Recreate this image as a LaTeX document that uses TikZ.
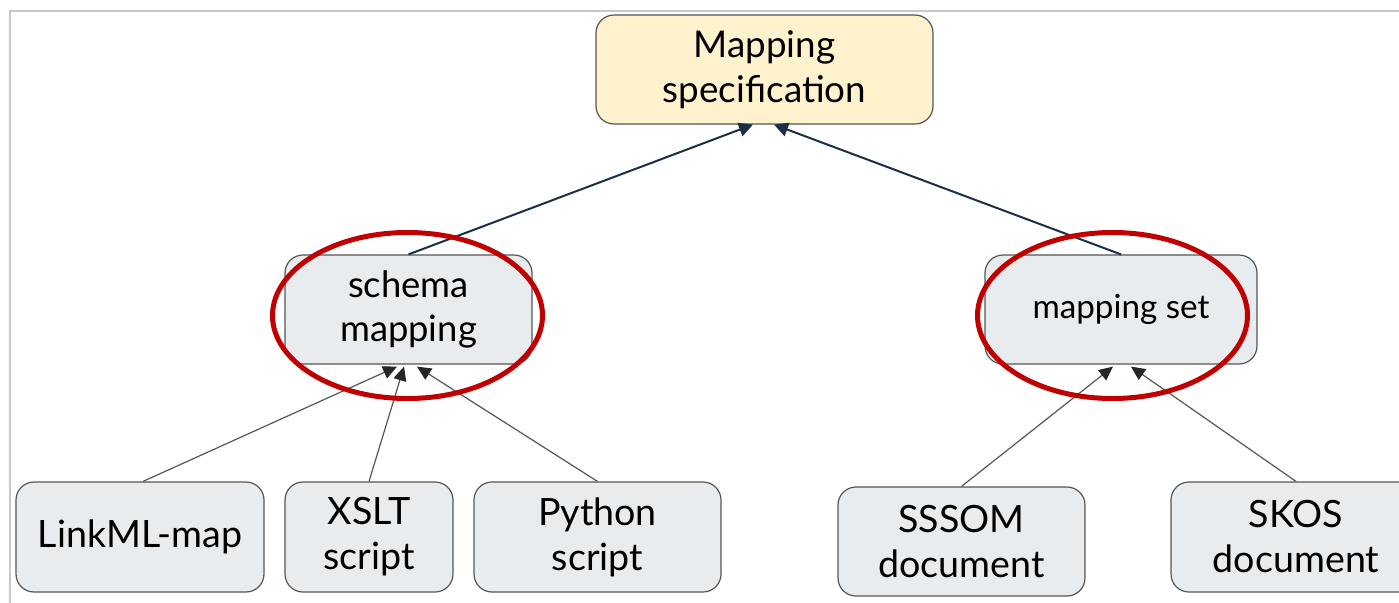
\documentclass[tikz,border=0pt]{standalone}
\usepackage{fontspec}
\setmainfont{Lato}
\usetikzlibrary{arrows.meta}
\definecolor{specfill}{RGB}{255, 242, 204}
\definecolor{boxfill}{RGB}{232, 236, 238}
\definecolor{boxline}{RGB}{85, 85, 85}
\definecolor{navy}{RGB}{27, 47, 71}
\definecolor{ringred}{RGB}{192, 0, 0}
\definecolor{framegray}{RGB}{200, 200, 200}

\begin{document}
\begin{tikzpicture}[x=0.5pt, y=-0.5pt,
  box/.style={rectangle, rounded corners=9pt, draw=boxline, line width=0.6pt, fill=boxfill, align=center, inner sep=0pt},
  bigtext/.style={font=\fontsize{18.8}{22.5}\selectfont},
  toparrow/.style={-{Triangle[length=7pt, width=7pt]}, line width=1pt, color=navy},
  subarrow/.style={-{Triangle[length=7pt, width=6.5pt, color=black!85]}, line width=0.6pt, color=boxline},
  ring/.style={draw=ringred, line width=2.5pt}]
\useasboundingbox (0,0) rectangle (1399,602);
\draw [framegray, line width=0.9pt] (10,640) -- (10,11) -- (1420,11);
% upper level
\node (spec) [box, fill=specfill, font=\fontsize{18.4}{22.5}\selectfont, minimum width=168.5pt, minimum height=54.5pt] at (764.5, 69.5) {Mapping\\specification};
\node (schema) [box, font=\fontsize{18.2}{22}\selectfont, minimum width=123.5pt, minimum height=54.5pt] at (408.5, 309.5) {schema\\mapping};
\node (mset) [box, font=\fontsize{16.6}{20}\selectfont, minimum width=136pt, minimum height=54.5pt] at (1121, 309.5) {mapping set};
% lower level
\node (linkml) [box, bigtext, minimum width=124pt, minimum height=55pt] at (140, 537) {LinkML-map};
\node (xslt) [box, bigtext, minimum width=84pt, minimum height=55pt] at (369, 537) {XSLT\\script};
\node (python) [box, bigtext, minimum width=123.5pt, minimum height=55pt] at (597.5, 537) {Python\\script};
\node (sssom) [box, bigtext, minimum width=123.5pt, minimum height=54.5pt] at (961.5, 541.5) {SSSOM\\document};
\node (skos) [box, bigtext, minimum width=125pt, minimum height=55pt] at (1296, 537) {SKOS\\document};
% arrow ends
\coordinate (specin1) at ([xshift=-5.75pt]spec.south);
\coordinate (specin2) at ([xshift=4.75pt]spec.south);
\coordinate (schemain1) at ([xshift=-5.75pt, yshift=-1pt]schema.south);
\coordinate (schemain2) at ([xshift=-2.25pt, yshift=-1pt]schema.south);
\coordinate (schemain3) at ([xshift=4.25pt, yshift=-1pt]schema.south);
\coordinate (msetin1) at ([xshift=-4pt, yshift=-1pt]mset.south);
\coordinate (msetin2) at ([xshift=5pt, yshift=-1pt]mset.south);
\draw [toparrow] (schema.north) to (specin1);
\draw [toparrow] (mset.north) to (specin2);
\draw [subarrow] ([xshift=1.5pt]linkml.north) to (schemain1);
\draw [subarrow] (xslt.north) to (schemain2);
\draw [subarrow] (python.north) to (schemain3);
\draw [subarrow] (sssom.north) to (msetin1);
\draw [subarrow] (skos.north) to (msetin2);
% highlight rings
\draw [ring] (407.5, 315.5) ellipse [x radius=67.5pt, y radius=41.5pt];
\draw [ring] (1112.5, 315.5) ellipse [x radius=67.5pt, y radius=41.5pt];
\end{tikzpicture}
\end{document}
